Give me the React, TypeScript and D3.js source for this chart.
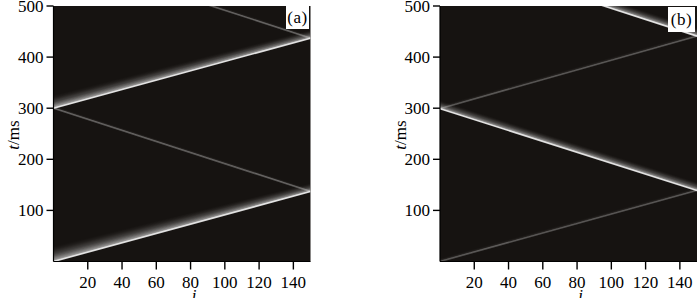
import React from 'react';
import * as d3 from 'd3';

// axis ticks
const iTicks = [20, 40, 60, 80, 100, 120, 140];
const tTicks = [100, 200, 300, 400, 500];
const iDomain: [number, number] = [0, 150];
const tDomain: [number, number] = [0, 500];

// wave-front path vertices (i, t in ms), panel (a)
const pathAI = [0, 150, 0, 150, 0];
const pathAT = [0, 137, 300, 437, 600];
// per-segment peak intensity and trailing-glow widths (ms) at start / end
const peakA = [1.0, 0.34, 1.0, 0.34];
const glowStartA = [40, 10, 34, 10];
const glowEndA = [22, 10, 22, 10];

// panel (b)
const pathBI = [0, 150, 0, 150, 0];
const pathBT = [0, 139, 299, 441, 604];
const peakB = [0.3, 1.0, 0.3, 1.0];
const glowStartB = [12, 22, 12, 22];
const glowEndB = [12, 22, 12, 22];

const W = 700;
const H = 298;
const TOP = 6;
const BOTTOM = 261.5;
const BG = '#161311';
const NLAYERS = 22;

type PanelProps = {
  id: string;
  x0: number;
  x1: number;
  pi: number[];
  pt: number[];
  peak: number[];
  gs: number[];
  ge: number[];
  label: string;
  box: [number, number, number, number];
  ylabX: number;
};

function profile(f: number, p: number) {
  return p * 0.72 * Math.pow(Math.max(0, 1 - f), 2.6);
}

function Panel({ id, x0, x1, pi, pt, peak, gs, ge, label, box, ylabX }: PanelProps) {
  const x = d3.scaleLinear().domain(iDomain).range([x0, x1]);
  const y = d3.scaleLinear().domain(tDomain).range([BOTTOM, TOP]);
  const segs = d3.range(pi.length - 1).map((k) => ({
    i0: pi[k], t0: pt[k], i1: pi[k + 1], t1: pt[k + 1],
    p: peak[k], w0: gs[k], w1: ge[k],
  }));
  const line = d3.line<[number, number]>().x((d) => x(d[0])).y((d) => y(d[1]));
  const order = segs.map((s, k) => k).sort((a, b) => segs[a].p - segs[b].p);
  return (
    <g>
      <defs>
        <clipPath id={`clip-${id}`}>
          <rect x={x0} y={TOP} width={x1 - x0} height={BOTTOM - TOP} />
        </clipPath>
      </defs>
      <rect x={x0} y={TOP} width={x1 - x0} height={BOTTOM - TOP} fill={BG} />
      <g clipPath={`url(#clip-${id})`}>
        {order.map((k) => {
          const s = segs[k];
          const layers = d3.range(NLAYERS).map((j) => {
            const Oj = profile((j + 0.5) / NLAYERS, s.p);
            const On = j + 1 < NLAYERS ? profile((j + 1.5) / NLAYERS, s.p) : 0;
            const a = 1 - (1 - Oj) / (1 - On);
            const b = (j + 1) / NLAYERS;
            const pts: [number, number][] = [
              [s.i0, s.t0],
              [s.i1, s.t1],
              [s.i1, s.t1 + s.w1 * b],
              [s.i0, s.t0 + s.w0 * b],
            ];
            return (
              <path key={j} d={line(pts) + 'Z'} fill="#ffffff" fillOpacity={a} />
            );
          });
          return (
            <g key={k}>
              {layers}
              <path
                d={line([[s.i0, s.t0], [s.i1, s.t1]]) || ''}
                stroke="#f0f0f0"
                strokeOpacity={s.p * 0.9}
                strokeWidth={1.6}
                fill="none"
              />
            </g>
          );
        })}
      </g>
      <line x1={x0} x2={x0} y1={TOP} y2={BOTTOM} stroke="#000" strokeWidth={1.2} />
      <line x1={x0} x2={x1} y1={BOTTOM} y2={BOTTOM} stroke="#000" strokeWidth={1.2} />
      {tTicks.map((t) => (
        <g key={t}>
          <line x1={x0 - 7} x2={x0} y1={y(t)} y2={y(t)} stroke="#000" strokeWidth={1.4} />
          <text x={x0 - 10} y={y(t) + 6} textAnchor="end" fontSize={17}
            fontFamily="'Liberation Serif', 'Times New Roman', serif" fill="#000">{t}</text>
        </g>
      ))}
      {iTicks.map((v) => (
        <g key={v}>
          <line x1={x(v)} x2={x(v)} y1={BOTTOM} y2={BOTTOM + 8} stroke="#000" strokeWidth={1.4} />
          <text x={x(v)} y={288} textAnchor="middle" fontSize={17}
            fontFamily="'Liberation Serif', 'Times New Roman', serif" fill="#000">{v}</text>
        </g>
      ))}
      <text x={x(82)} y={301} textAnchor="middle" fontSize={17} fontStyle="italic"
        fontFamily="'Liberation Serif', 'Times New Roman', serif" fill="#000">i</text>
      <text transform={`translate(${ylabX},${135}) rotate(-90)`} textAnchor="middle" fontSize={17}
        fontFamily="'Liberation Serif', 'Times New Roman', serif" fill="#000">
        <tspan fontStyle="italic">t</tspan>/ms
      </text>
      <rect x={box[0]} y={box[1]} width={box[2]} height={box[3]} fill="#fff" />
      <text x={box[0] + box[2] / 2} y={box[1] + box[3] / 2 + 5.5} textAnchor="middle" fontSize={17}
        fontFamily="'Liberation Serif', 'Times New Roman', serif" fill="#000" letterSpacing={0.5}>{label}</text>
    </g>
  );
}

export default function App() {
  return (
    <svg width={W} height={H} style={{ position: 'absolute', left: 0, top: 0, display: 'block', background: '#fff' }}>
      <Panel id="a" x0={53.5} x1={310.5} pi={pathAI} pt={pathAT} peak={peakA} gs={glowStartA} ge={glowEndA}
        label="(a)" box={[286, 6, 23, 23]} ylabX={19} />
      <Panel id="b" x0={440} x1={697} pi={pathBI} pt={pathBT} peak={peakB} gs={glowStartB} ge={glowEndB}
        label="(b)" box={[668, 7, 27, 25]} ylabX={406} />
    </svg>
  );
}
